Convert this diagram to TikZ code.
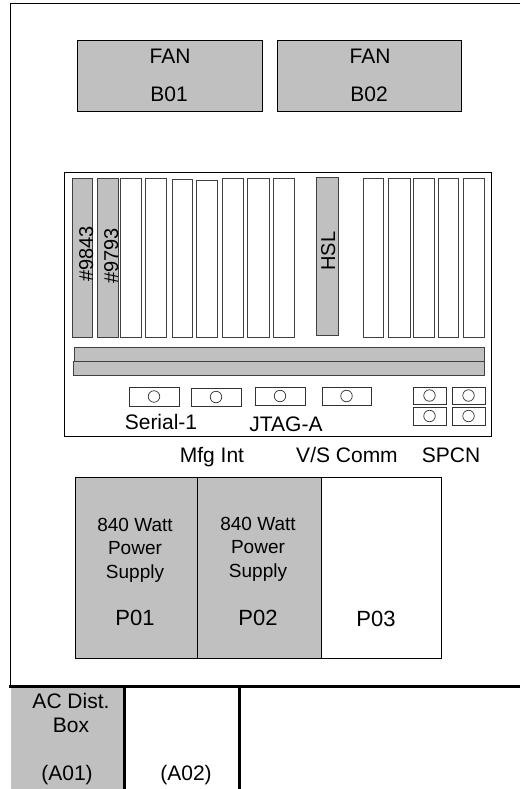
\documentclass[tikz,border=0pt]{standalone}
\usepackage{fontspec}
\setmainfont{Liberation Sans}
\usetikzlibrary{positioning}

\definecolor{unitgray}{HTML}{C0C0C0}

\begin{document}
\begin{tikzpicture}[
    x=1pt, y=-1pt,
    font=\fontsize{21pt}{24pt}\selectfont,
    unit/.style={draw=black, line width=0.9pt, fill=#1, inner sep=0pt},
    unit/.default=unitgray,
    slotline/.style={draw=black!75, line width=1pt, fill=white},
    slotfull/.style={draw=black!75, line width=1pt, fill=unitgray},
    port/.style={draw=black!80, line width=0.9pt, fill=white},
    hole/.style={circle, draw=black!80, line width=0.7pt, fill=white, minimum size=11.5pt, inner sep=0pt},
    heavy/.style={line width=3pt, draw=black},
    lbl/.style={inner sep=0pt, align=center, text height=15pt, text depth=0pt},
    sidelbl/.style={inner sep=0pt, rotate=90, text height=15pt, text depth=0pt, font=\fontsize{20pt}{24pt}\selectfont}
  ]
    \useasboundingbox (0,0) rectangle (520,789);
    % enclosure
    \draw[line width=0.9pt] (520,3) -- (10.5,3) -- (10.5,686);
    % fans
    \draw[unit] (77,40) rectangle (262,111);
    \draw[unit] (277,40) rectangle (461,111);
    \node[lbl] (fan1) at (170,56) {FAN};
    \node[lbl] (b01) at (169,94) {B01};
    \node[lbl] (fan2) at (370,56) {FAN};
    \node[lbl] (b02) at (369,94) {B02};
    % board
    \draw[line width=0.9pt, fill=white] (64,172) rectangle (491.5,436);
    \foreach \xa/\xb/\ya in {120/141/178, 145/166/178, 172/192/179, 196/217/180, 222/243/178, 247/269/178,
        273/294/178, 363/383/178, 388/410/178, 413/434/178, 438/458/178, 463/484/178} {
      \draw[slotline] (\xa,\ya) rectangle (\xb,337);
    }
    \draw[slotfull] (72,178) rectangle (92,337);
    \draw[slotfull] (97,178) rectangle (118,337);
    \draw[slotfull] (316,177) rectangle (338,335);
    \node[sidelbl] (card1) at (85.5,254) {\#9843};
    \node[sidelbl] (card2) at (110.5,256) {\#9793};
    \node[sidelbl] (hsl) at (327.5,251) {HSL};
    \draw[slotfull] (74,347) rectangle (484,361);
    \draw[slotfull] (73,361) rectangle (484,375);
    % ports
    \foreach \xa/\xb/\ya/\yb in {129/179/387/406, 191/241/388/406, 255/305/387/405, 322/371/387/405,
        413/446/387/404, 452/485/387/404, 413/446/407/425, 452/485/407/425} {
      \draw[port] (\xa,\ya) rectangle (\xb,\yb);
      \node[hole] at ({(\xa+\xb)/2},{(\ya+\yb)/2}) {};
    }
    \node[lbl] (serial) at (161,422) {Serial-1};
    \node[lbl] (jtag) at (286,424) {JTAG-A};
    \node[lbl] (mfg) at (212,455) {Mfg Int};
    \node[lbl] (vscomm) at (347,455) {V/S Comm};
    \node[lbl] (spcn) at (451,455) {SPCN};
    % power supplies
    \draw[unit] (75,477) rectangle (197,658);
    \draw[unit] (197,477) rectangle (321,658);
    \draw[unit=white] (321,477) rectangle (441,658);
    \node[font=\fontsize{19pt}{23.5pt}\selectfont, inner sep=0pt, align=center] (ps1) at (135,550) {840 Watt\\Power\\Supply};
    \node[font=\fontsize{19pt}{23.5pt}\selectfont, inner sep=0pt, align=center] (ps2) at (258,549) {840 Watt\\Power\\Supply};
    \node[lbl, font=\fontsize{22pt}{24pt}\selectfont] (p01) at (135,618) {P01};
    \node[lbl, font=\fontsize{22pt}{24pt}\selectfont] (p02) at (258,618) {P02};
    \node[lbl, font=\fontsize{22pt}{24pt}\selectfont] (p03) at (376,619) {P03};
    % AC distribution
    \fill[unitgray] (10.5,686) rectangle (124,789);
    \draw[heavy] (9,686) -- (520,686);
    \draw[heavy] (124,686) -- (124,789);
    \draw[heavy] (239,686) -- (239,789);
    \node[inner sep=0pt, align=center] (acbox) at (71,713) {AC Dist.\\Box};
    \node[lbl] (a01) at (67,773) {(A01)};
    \node[lbl] (a02) at (186,773) {(A02)};
\end{tikzpicture}
\end{document}
